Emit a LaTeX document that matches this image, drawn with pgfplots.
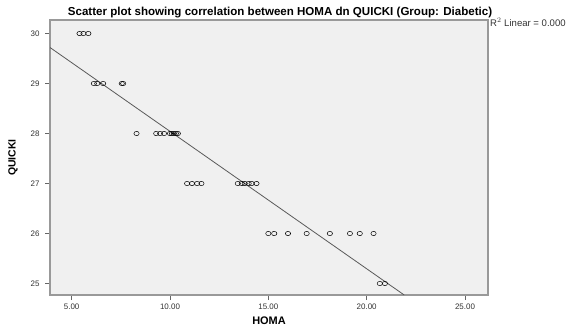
\documentclass[border=0pt]{standalone}
\usepackage{pgfplots}
\pgfplotsset{compat=1.18}
\usepackage{fontspec}
\setmainfont{Liberation Sans}
\begin{document}
\begin{tikzpicture}[x=1bp,y=1bp]
\path[use as bounding box] (0,0) rectangle (566,328);
\begin{axis}[
  at={(50bp,33bp)}, anchor=south west,
  scale only axis, width=438bp, height=275bp,
  xmin=3.9, xmax=26.17, ymin=24.77, ymax=30.27,
  axis background/.style={fill=black!6},
  axis line style={draw=black!40, line width=1.2pt},
  xtick={5,10,15,20,25}, ytick={25,26,27,28,29,30},
  tick align=outside, tick pos=left, major tick length=5bp,
  tick style={black!60, line width=0.6pt},
  /pgf/number format/assume math mode=true,
  xticklabel style={font=\fontsize{8}{9}\selectfont, color=black!80,
    /pgf/number format/fixed, /pgf/number format/fixed zerofill,
    /pgf/number format/precision=2},
  yticklabel style={font=\fontsize{8}{9}\selectfont, color=black!80, xshift=-2bp},
  xlabel={\textbf{HOMA}},
  ylabel={\textbf{QUICKI}},
  xlabel style={font=\fontsize{11}{13}\selectfont, at={(axis description cs:0.5,-0.0945)}, anchor=center},
  ylabel style={font=\fontsize{10.5}{12}\selectfont, at={(axis description cs:-0.0845,0.5)}, anchor=center},
  clip=true,
]
\addplot[only marks, mark=o, mark size=2.4bp, mark options={black, line width=0.5pt, xscale=1.1, yscale=0.9}] coordinates {
  (5.40,30) (5.60,30) (5.85,30)
  (6.13,29) (6.30,29) (6.60,29) (7.55,29) (7.62,29)
  (8.30,28) (9.30,28) (9.50,28) (9.70,28) (10.00,28) (10.10,28) (10.20,28) (10.30,28) (10.40,28)
  (10.87,27) (11.12,27) (11.38,27) (11.60,27)
  (13.45,27) (13.65,27) (13.80,27) (14.00,27) (14.15,27) (14.40,27)
  (15.00,26) (15.30,26) (16.00,26) (16.95,26) (18.13,26) (19.15,26) (19.65,26) (20.35,26)
  (20.67,25) (20.93,25)
};
\addplot[black!65, line width=0.8pt] coordinates {(3.9,29.72) (21.91,24.77)};
\end{axis}
\node[font=\fontsize{11.6}{13}\selectfont\bfseries, anchor=center] at (280,315) {Scatter plot showing correlation between HOMA dn QUICKI (Group: Diabetic)};
\node[font=\fontsize{9.6}{11}\selectfont, anchor=west, inner sep=0pt, color=black!80] at (490,305.5) {R$^2$ Linear = 0.000};
\end{tikzpicture}
\end{document}
